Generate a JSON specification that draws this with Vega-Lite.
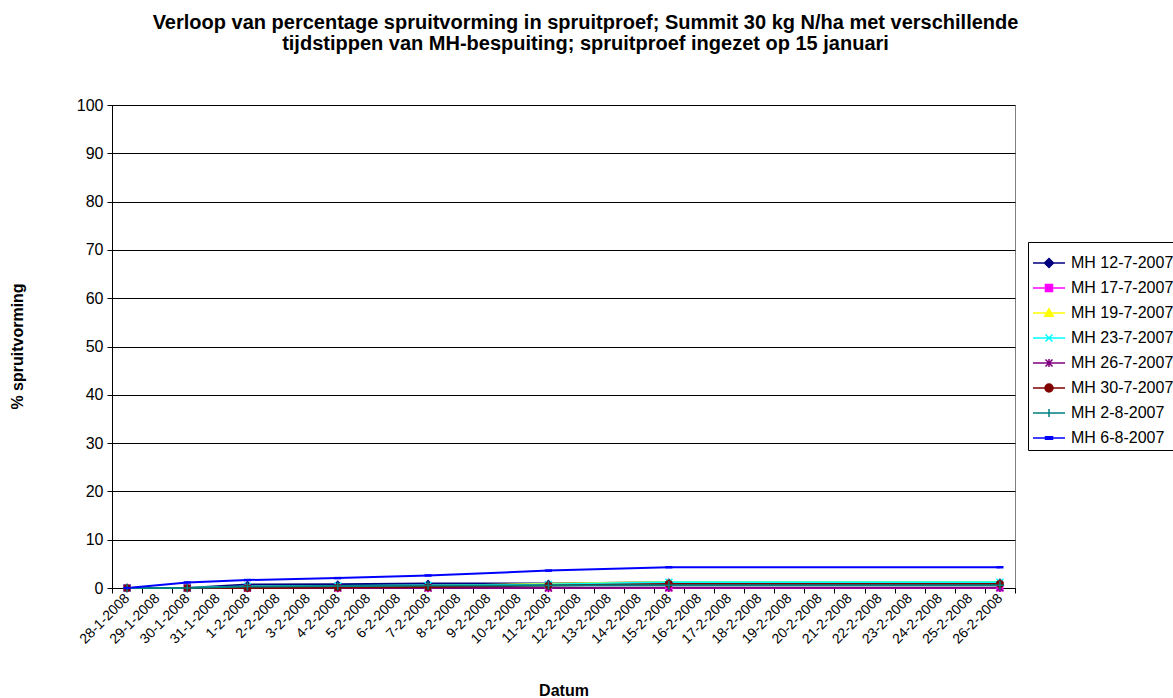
{
  "$schema": "https://vega.github.io/schema/vega-lite/v6.json",
  "width": 903,
  "height": 483,
  "autosize": "none",
  "padding": {"left": 112, "top": 105, "right": 158, "bottom": 110},
  "background": "white",
  "config": {"font": "Liberation Sans", "view": {"stroke": "#808080", "strokeWidth": 1}},
  "title": {
    "text": ["Verloop van percentage spruitvorming in spruitproef; Summit 30 kg N/ha met verschillende", "tijdstippen van MH-bespuiting; spruitproef ingezet op 15 januari"],
    "font": "Liberation Sans",
    "fontSize": 20,
    "fontWeight": "bold",
    "color": "black",
    "anchor": "middle",
    "dx": 22,
    "lineHeight": 21,
    "offset": 43
  },
  "data": {
    "values": [
      {"series": "MH 12-7-2007", "date": "28-1-2008", "value": 0},
      {"series": "MH 12-7-2007", "date": "30-1-2008", "value": 0},
      {"series": "MH 12-7-2007", "date": "1-2-2008", "value": 0.7},
      {"series": "MH 12-7-2007", "date": "4-2-2008", "value": 0.8},
      {"series": "MH 12-7-2007", "date": "7-2-2008", "value": 0.95},
      {"series": "MH 12-7-2007", "date": "11-2-2008", "value": 0.95},
      {"series": "MH 12-7-2007", "date": "15-2-2008", "value": 1.2},
      {"series": "MH 12-7-2007", "date": "26-2-2008", "value": 1.2},
      {"series": "MH 17-7-2007", "date": "28-1-2008", "value": 0},
      {"series": "MH 17-7-2007", "date": "30-1-2008", "value": 0},
      {"series": "MH 17-7-2007", "date": "1-2-2008", "value": 0},
      {"series": "MH 17-7-2007", "date": "4-2-2008", "value": 0},
      {"series": "MH 17-7-2007", "date": "7-2-2008", "value": 0},
      {"series": "MH 17-7-2007", "date": "11-2-2008", "value": 0},
      {"series": "MH 17-7-2007", "date": "15-2-2008", "value": 0},
      {"series": "MH 17-7-2007", "date": "26-2-2008", "value": 0},
      {"series": "MH 19-7-2007", "date": "28-1-2008", "value": 0},
      {"series": "MH 19-7-2007", "date": "30-1-2008", "value": 0},
      {"series": "MH 19-7-2007", "date": "1-2-2008", "value": 0.2},
      {"series": "MH 19-7-2007", "date": "4-2-2008", "value": 0.3},
      {"series": "MH 19-7-2007", "date": "7-2-2008", "value": 0.4},
      {"series": "MH 19-7-2007", "date": "11-2-2008", "value": 0.9},
      {"series": "MH 19-7-2007", "date": "15-2-2008", "value": 1.25},
      {"series": "MH 19-7-2007", "date": "26-2-2008", "value": 1.25},
      {"series": "MH 23-7-2007", "date": "28-1-2008", "value": 0},
      {"series": "MH 23-7-2007", "date": "30-1-2008", "value": 0},
      {"series": "MH 23-7-2007", "date": "1-2-2008", "value": 0.3},
      {"series": "MH 23-7-2007", "date": "4-2-2008", "value": 0.4},
      {"series": "MH 23-7-2007", "date": "7-2-2008", "value": 0.5},
      {"series": "MH 23-7-2007", "date": "11-2-2008", "value": 0.7},
      {"series": "MH 23-7-2007", "date": "15-2-2008", "value": 1.2},
      {"series": "MH 23-7-2007", "date": "26-2-2008", "value": 1.2},
      {"series": "MH 26-7-2007", "date": "28-1-2008", "value": 0},
      {"series": "MH 26-7-2007", "date": "30-1-2008", "value": 0},
      {"series": "MH 26-7-2007", "date": "1-2-2008", "value": 0},
      {"series": "MH 26-7-2007", "date": "4-2-2008", "value": 0},
      {"series": "MH 26-7-2007", "date": "7-2-2008", "value": 0},
      {"series": "MH 26-7-2007", "date": "11-2-2008", "value": 0},
      {"series": "MH 26-7-2007", "date": "15-2-2008", "value": 0.05},
      {"series": "MH 26-7-2007", "date": "26-2-2008", "value": 0.05},
      {"series": "MH 30-7-2007", "date": "28-1-2008", "value": 0},
      {"series": "MH 30-7-2007", "date": "30-1-2008", "value": 0},
      {"series": "MH 30-7-2007", "date": "1-2-2008", "value": 0},
      {"series": "MH 30-7-2007", "date": "4-2-2008", "value": 0.1},
      {"series": "MH 30-7-2007", "date": "7-2-2008", "value": 0.2},
      {"series": "MH 30-7-2007", "date": "11-2-2008", "value": 0.5},
      {"series": "MH 30-7-2007", "date": "15-2-2008", "value": 0.85},
      {"series": "MH 30-7-2007", "date": "26-2-2008", "value": 0.85},
      {"series": "MH 2-8-2007", "date": "28-1-2008", "value": 0},
      {"series": "MH 2-8-2007", "date": "30-1-2008", "value": 0},
      {"series": "MH 2-8-2007", "date": "1-2-2008", "value": 0.3},
      {"series": "MH 2-8-2007", "date": "4-2-2008", "value": 0.4},
      {"series": "MH 2-8-2007", "date": "7-2-2008", "value": 0.5},
      {"series": "MH 2-8-2007", "date": "11-2-2008", "value": 0.5},
      {"series": "MH 2-8-2007", "date": "15-2-2008", "value": 0.55},
      {"series": "MH 2-8-2007", "date": "26-2-2008", "value": 0.55},
      {"series": "MH 6-8-2007", "date": "28-1-2008", "value": 0},
      {"series": "MH 6-8-2007", "date": "30-1-2008", "value": 1.15},
      {"series": "MH 6-8-2007", "date": "1-2-2008", "value": 1.65},
      {"series": "MH 6-8-2007", "date": "4-2-2008", "value": 2.05},
      {"series": "MH 6-8-2007", "date": "7-2-2008", "value": 2.6},
      {"series": "MH 6-8-2007", "date": "11-2-2008", "value": 3.6},
      {"series": "MH 6-8-2007", "date": "15-2-2008", "value": 4.3},
      {"series": "MH 6-8-2007", "date": "26-2-2008", "value": 4.3}
    ]
  },
  "encoding": {
    "x": {
      "field": "date",
      "type": "ordinal",
      "bandPosition": 0.5,
      "scale": {
        "type": "band",
        "paddingInner": 0,
        "paddingOuter": 0,
        "domain": ["28-1-2008", "29-1-2008", "30-1-2008", "31-1-2008", "1-2-2008", "2-2-2008", "3-2-2008", "4-2-2008", "5-2-2008", "6-2-2008", "7-2-2008", "8-2-2008", "9-2-2008", "10-2-2008", "11-2-2008", "12-2-2008", "13-2-2008", "14-2-2008", "15-2-2008", "16-2-2008", "17-2-2008", "18-2-2008", "19-2-2008", "20-2-2008", "21-2-2008", "22-2-2008", "23-2-2008", "24-2-2008", "25-2-2008", "26-2-2008"]
      },
      "axis": {
        "title": "Datum",
        "labelAngle": -45,
        "labelAlign": "right",
        "labelBaseline": "middle",
        "labelFontSize": 14,
        "labelColor": "black",
        "labelPadding": 3,
        "labelOverlap": false,
        "tickBand": "extent",
        "tickColor": "black",
        "tickSize": 5,
        "domainColor": "black",
        "grid": false,
        "titleFontSize": 16,
        "titleFontWeight": "bold",
        "titleColor": "black",
        "titleY": 102,
        "titleBaseline": "middle"
      }
    },
    "y": {
      "field": "value",
      "type": "quantitative",
      "scale": {"domain": [0, 100], "nice": false},
      "axis": {
        "title": "% spruitvorming",
        "values": [0, 10, 20, 30, 40, 50, 60, 70, 80, 90, 100],
        "labelFontSize": 16,
        "labelColor": "black",
        "labelPadding": 4,
        "tickColor": "black",
        "tickSize": 5,
        "domainColor": "black",
        "gridColor": "black",
        "gridOpacity": 1,
        "titleFontSize": 16,
        "titleFontWeight": "bold",
        "titleColor": "black",
        "titleX": -95,
        "titleY": 241,
        "titleAngle": -90,
        "titleBaseline": "middle",
        "titleAlign": "center"
      }
    },
    "color": {
      "field": "series",
      "type": "nominal",
      "scale": {
        "domain": ["MH 12-7-2007", "MH 17-7-2007", "MH 19-7-2007", "MH 23-7-2007", "MH 26-7-2007", "MH 30-7-2007", "MH 2-8-2007", "MH 6-8-2007"],
        "range": ["#000080", "#FF00FF", "#FFFF00", "#00FFFF", "#800080", "#800000", "#008080", "#0000FF"]
      },
      "legend": {
        "orient": "none",
        "legendX": 916,
        "legendY": 137,
        "title": null,
        "labelFontSize": 16,
        "labelColor": "black",
        "labelOffset": 5,
        "strokeColor": "black",
        "fillColor": "white",
        "padding": 4,
        "symbolSize": 1024,
        "rowPadding": -2,
        "encode": {
          "symbols": {
            "update": {
              "shape": {"signal": "['M-1,0L1,0M0,-0.28L0.28,0L0,0.28L-0.28,0Z', 'M-1,0L1,0M-0.22,-0.22L0.22,-0.22L0.22,0.22L-0.22,0.22Z', 'M-1,0L1,0M0,-0.26L0.26,0.2L-0.26,0.2Z', 'M-1,0L1,0M-0.22,-0.22L0.22,0.22M-0.22,0.22L0.22,-0.22', 'M-1,0L1,0M-0.22,-0.22L0.22,0.22M-0.22,0.22L0.22,-0.22M0,-0.25L0,0.25', 'M-1,0L1,0M-0.25,0A0.25,0.25,0,1,0,0.25,0A0.25,0.25,0,1,0,-0.25,0Z', 'M-1,0L1,0M0,-0.25L0,0.25', 'M-1,0L1,0M-0.22,-0.08L0.22,-0.08L0.22,0.08L-0.22,0.08Z'][indexof(['MH 12-7-2007', 'MH 17-7-2007', 'MH 19-7-2007', 'MH 23-7-2007', 'MH 26-7-2007', 'MH 30-7-2007', 'MH 2-8-2007', 'MH 6-8-2007'], datum.value)]"},
              "fill": {"scale": "color", "field": "value"},
              "stroke": {"scale": "color", "field": "value"},
              "strokeWidth": {"value": 1.5},
              "opacity": {"value": 1},
              "size": {"value": 1024}
            }
          }
        }
      }
    },
    "order": {"value": null}
  },
  "layer": [
    {"mark": {"type": "line", "strokeWidth": 2}},
    {
      "transform": [{"filter": {"field": "series", "equal": "MH 12-7-2007"}}],
      "mark": {"type": "point", "shape": "diamond", "filled": true, "opacity": 1, "size": 60}
    },
    {
      "transform": [{"filter": {"field": "series", "equal": "MH 17-7-2007"}}],
      "mark": {"type": "point", "shape": "square", "filled": true, "opacity": 1, "size": 50}
    },
    {
      "transform": [{"filter": {"field": "series", "equal": "MH 19-7-2007"}}],
      "mark": {"type": "point", "shape": "triangle-up", "filled": true, "opacity": 1, "size": 50}
    },
    {
      "transform": [{"filter": {"field": "series", "equal": "MH 23-7-2007"}}],
      "mark": {"type": "point", "shape": "M-1,-1L1,1M-1,1L1,-1", "filled": false, "opacity": 1, "size": 50, "strokeWidth": 1.5}
    },
    {
      "transform": [{"filter": {"field": "series", "equal": "MH 26-7-2007"}}],
      "mark": {"type": "point", "shape": "M-1,-1L1,1M-1,1L1,-1M0,-1.2L0,1.2", "filled": false, "opacity": 1, "size": 50, "strokeWidth": 1.5}
    },
    {
      "transform": [{"filter": {"field": "series", "equal": "MH 30-7-2007"}}],
      "mark": {"type": "point", "shape": "circle", "filled": true, "opacity": 1, "size": 60}
    },
    {
      "transform": [{"filter": {"field": "series", "equal": "MH 2-8-2007"}}],
      "mark": {"type": "point", "shape": "M-1.2,0L1.2,0M0,-1.2L0,1.2", "filled": false, "opacity": 1, "size": 50, "strokeWidth": 1.5}
    },
    {
      "transform": [{"filter": {"field": "series", "equal": "MH 6-8-2007"}}],
      "mark": {"type": "point", "shape": "M-1,-0.35L1,-0.35L1,0.35L-1,0.35Z", "filled": true, "opacity": 1, "size": 50}
    }
  ]
}
